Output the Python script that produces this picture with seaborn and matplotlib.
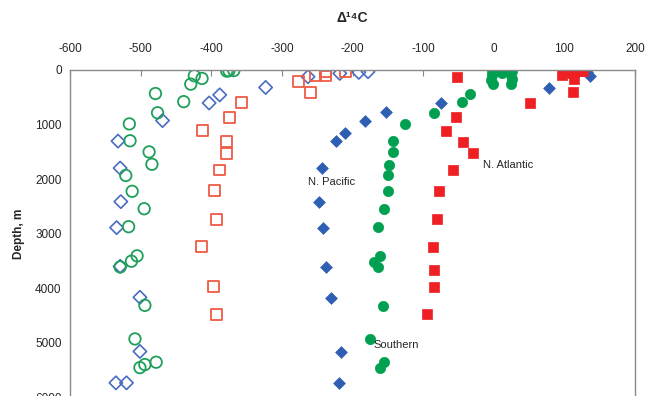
import matplotlib
matplotlib.use("Agg")
import matplotlib.pyplot as plt
import seaborn as sns
import numpy as np

sns.set_style("white")
plt.rcParams['font.family'] = ['Liberation Sans', 'DejaVu Sans']
plt.rcParams['axes.unicode_minus'] = False

# Open symbols (pre-bomb / natural)
pac_open_x = [-323, -388, -403, -469, -532, -529, -528, -534, -529, -501, -501, -535, -520, -263, -218, -191, -178]
pac_open_d = [320, 456, 604, 926, 1302, 1796, 2411, 2887, 3596, 4163, 5155, 5730, 5730, 123, 62, 43, 31]

sou_open_x = [-375, -368, -378, -424, -413, -429, -479, -439, -476, -516, -515, -488, -484, -521, -512, -495, -517,
              -505, -513, -529, -494, -508, -478, -494, -501]
sou_open_d = [13, 10, 20, 105, 155, 259, 431, 580, 783, 987, 1296, 1500, 1727, 1932, 2222, 2541, 2870,
              3404, 3502, 3607, 4311, 4926, 5352, 5395, 5451]

atl_open_x = [-357, -374, -412, -378, -378, -388, -395, -392, -414, -397, -392, -276, -260, -252, -238, -238, -210]
atl_open_d = [598, 876, 1110, 1313, 1529, 1832, 2214, 2732, 3237, 3959, 4471, 204, 413, 93, 20, 110, 31]

# Filled symbols (modern)
pac_x = [-75, -153, -182, -211, -223, -243, -248, -242, -237, -230, -216, -219, 78, 136, 132]
pac_d = [604, 771, 926, 1154, 1307, 1802, 2419, 2901, 3611, 4167, 5167, 5741, 327, 111, 30]

sou_x = [-125, -85, -45, -34, -143, -143, -149, -150, -150, -155, -164, -161, -170, -164, -157, -175, -155, -161,
         -2, 4, 10, 16, 22, 26, -3, -4, -1, 24, 26, 25, 12]
sou_d = [987, 783, 580, 444, 1296, 1500, 1733, 1932, 2222, 2548, 2876, 3404, 3515, 3611, 4321, 4926, 5352, 5451,
         10, 5, 15, 5, 10, 20, 100, 180, 260, 90, 170, 250, 50]

atl_x = [-52, 52, -54, -67, -44, -30, -58, -78, -80, -86, -85, -85, -94, 97, 113, 112, 114, 120, 126, 110]
atl_d = [123, 598, 864, 1111, 1315, 1524, 1832, 2222, 2727, 3237, 3660, 3969, 4471, 90, 170, 410, 30, 20, 10, 50]

x_ticks = [-600, -500, -400, -300, -200, -100, 0, 100, 200]
y_ticks = [0, 1000, 2000, 3000, 4000, 5000, 6000]

blue = "#2f5fb3"
green = "#00a050"
red = "#ee2024"
blue_o = "#4a6cc0"
green_o = "#1fa05a"
red_o = "#f05a45"

fig = plt.figure(figsize=(6.48, 3.96), dpi=100)
ax = fig.add_axes([70/648, -0.004, 565/648, 1 - 70/396 + 0.004])

sns.scatterplot(x=pac_open_x, y=pac_open_d, marker='D', s=46, facecolor='none', edgecolor=blue_o, linewidth=1.2, ax=ax)
sns.scatterplot(x=sou_open_x, y=sou_open_d, marker='o', s=68, facecolor='none', edgecolor=green_o, linewidth=1.3, ax=ax)
sns.scatterplot(x=atl_open_x, y=atl_open_d, marker='s', s=62, facecolor='none', edgecolor=red_o, linewidth=1.3, ax=ax)
sns.scatterplot(x=pac_x, y=pac_d, marker='D', s=36, color=blue, edgecolor=blue, linewidth=0.5, ax=ax)
sns.scatterplot(x=sou_x, y=sou_d, marker='o', s=55, color=green, edgecolor=green, linewidth=0.5, ax=ax)
sns.scatterplot(x=atl_x, y=atl_d, marker='s', s=50, color=red, edgecolor=red, linewidth=0.5, ax=ax)

ax.set_xlim(-600, 200)
ax.set_ylim(6000, 0)
ax.set_xticks(x_ticks)
ax.set_yticks(y_ticks)
ax.xaxis.tick_top()
ax.xaxis.set_label_position('top')
ax.tick_params(direction='in', length=4, color='#888888', labelsize=8.5, pad=11)
ax.tick_params(axis='y', pad=6)
for sp in ax.spines.values():
    sp.set_color('#8a8a8a')
    sp.set_linewidth(1.0)

ax.set_xlabel("Δ¹⁴C", fontsize=10, fontweight='bold', labelpad=15)
ax.set_ylabel("Depth, m", fontsize=8.5, fontweight='bold', labelpad=7)

ax.text(-230, 2055, "N. Pacific", fontsize=8, ha='center', va='center')
ax.text(-138, 5045, "Southern", fontsize=8, ha='center', va='center')
ax.text(21, 1745, "N. Atlantic", fontsize=8, ha='center', va='center')

fig.savefig("out.png", dpi=100)
